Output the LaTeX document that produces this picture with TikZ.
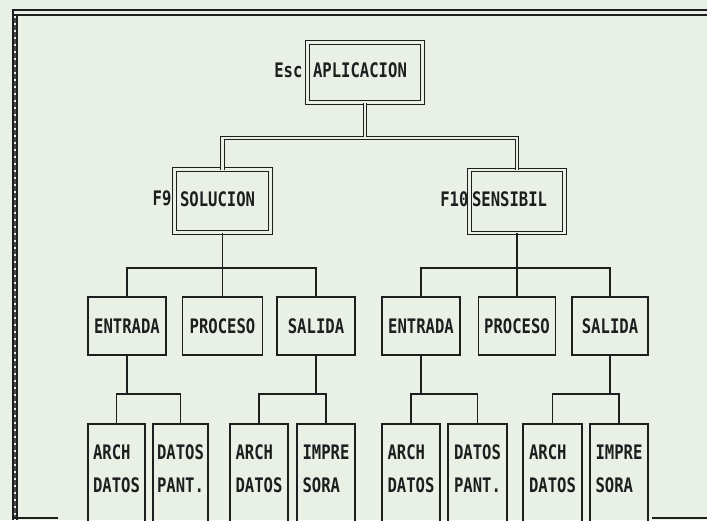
\documentclass[tikz,border=0pt]{standalone}
\usepackage{fontspec}
\newfontfamily\dotfont[FakeStretch=0.78]{DejaVu Sans Mono Bold}
\definecolor{paper}{HTML}{E9F1E7}
\definecolor{ink}{HTML}{1E1E1E}
\begin{document}
\begin{tikzpicture}[x=1pt,y=-1pt,
  conn/.style={draw=ink, line width=1.3pt},
  dbl/.style={draw=ink, line width=1.1pt, double=paper, double distance=2.6pt},
  txt/.style={font=\dotfont\fontsize{20}{33}\selectfont, text=ink},
  lvlone/.style={dbl, txt, outer sep=0pt, inner ysep=0pt, align=left, text depth=4pt},
  lvltwo/.style={conn, txt, outer sep=0pt, inner ysep=0pt, minimum height=58pt, align=center},
  lvlthree/.style={txt, outer sep=0pt, inner xsep=0pt, inner ysep=0pt, minimum height=89pt, text width=47pt, align=left},
  keylbl/.style={txt, inner sep=0pt, outer sep=0pt}]

% sheet and frame
\fill[paper] (0,0) rectangle (707,520);
\useasboundingbox (0,0) rectangle (707,520);
\clip (0,0) rectangle (707,520);
\draw[ink, line width=1.2pt] (12,10) -- (707,10);
\draw[ink, line width=1.2pt] (14,15) -- (707,15);
\draw[ink, line width=1.2pt] (13,10) -- (13,520);
\draw[ink, line width=1.2pt] (17,15) -- (17,520);
\draw[ink!80, line width=2.5pt, dash pattern=on 5pt off 2pt] (15,18) -- (15,518);
\draw[ink, line width=2pt] (12,518) -- (58,518);
\draw[ink, line width=2pt] (652,518) -- (707,518);

% level 0 and level 1 (double frames)
\node[lvlone, minimum width=115pt, minimum height=60pt, inner xsep=5.5pt, text width=104pt] (root) at (365,72.5) {APLICACION};
\node[lvlone, minimum width=96pt, minimum height=63pt, inner xsep=5.5pt, text width=85pt] (sol) at (222.5,201) {SOLUCION};
\node[lvlone, minimum width=95pt, minimum height=63pt, inner xsep=2.5pt, text width=90pt] (sen) at (517,201.5) {SENSIBIL};

\node[keylbl, anchor=east] (esc) at ([xshift=-5pt,yshift=2.5pt]root.west) {Esc};
\node[keylbl, anchor=east] (fnine) at ([xshift=-3pt,yshift=2.5pt]sol.west) {F9};
\node[keylbl, anchor=east] (ften) at ([xshift=-1pt,yshift=2.5pt]sen.west) {F10};

% level 2
\node[lvltwo, minimum width=78pt] (ent1) at (127,326) {ENTRADA};
\node[lvltwo, minimum width=80pt] (pro1) at (222.5,326) {PROCESO};
\node[lvltwo, minimum width=78pt] (sal1) at (316,326) {SALIDA};
\node[lvltwo, minimum width=78pt] (ent2) at (421,326) {ENTRADA};
\node[lvltwo, minimum width=77pt] (pro2) at (517,326) {PROCESO};
\node[lvltwo, minimum width=76pt] (sal2) at (610,326) {SALIDA};

% level 3 (boxes run off the bottom of the sheet)
\node[lvlthree, minimum width=57pt] (a1) at (116.5,468.5) {ARCH\\DATOS};
\node[lvlthree, minimum width=55pt] (d1) at (180.5,468.5) {DATOS\\PANT.};
\node[lvlthree, minimum width=58pt] (a2) at (259,468.5) {ARCH\\DATOS};
\node[lvlthree, minimum width=58pt] (i2) at (326,468.5) {IMPRE\\SORA};
\node[lvlthree, minimum width=58pt] (a3) at (411,468.5) {ARCH\\DATOS};
\node[lvlthree, minimum width=59pt] (d3) at (477.5,468.5) {DATOS\\PANT.};
\node[lvlthree, minimum width=59pt] (a4) at (552.5,468.5) {ARCH\\DATOS};
\node[lvlthree, minimum width=58pt] (i4) at (619,468.5) {IMPRE\\SORA};

\coordinate (floor) at (0,522);
\foreach \b in {a1,d1,a2,i2,a3,d3,a4,i4}
  \draw[conn] (\b.north west |- floor) -- (\b.north west) -- (\b.north east) -- (\b.north east |- floor);

% connectors
\coordinate (busone) at (0,138);
\coordinate (bustwo) at (0,268);
\coordinate (busthree) at (0,394);

\draw[dbl] (sol.north) -- (sol.north |- busone) -- (sen.north |- busone) -- (sen.north);
\draw[dbl] (root.south) -- ([yshift=1.5pt]root.south |- busone);

\draw[conn] (sol.south) -- (sol.south |- bustwo);
\draw[conn] (ent1.north) |- (sal1.north |- bustwo) -- (sal1.north);
\draw[conn] (pro1.north) -- (pro1.north |- bustwo);
\draw[conn] (sen.south) -- (sen.south |- bustwo);
\draw[conn] (ent2.north) |- (sal2.north |- bustwo) -- (sal2.north);
\draw[conn] (pro2.north) -- (pro2.north |- bustwo);

\draw[conn] (ent1.south) -- (ent1.south |- busthree);
\draw[conn] (a1.north) |- (d1.north |- busthree) -- (d1.north);
\draw[conn] (sal1.south) -- (sal1.south |- busthree);
\draw[conn] (a2.north) |- (i2.north |- busthree) -- (i2.north);
\draw[conn] (ent2.south) -- (ent2.south |- busthree);
\draw[conn] (a3.north) |- (d3.north |- busthree) -- (d3.north);
\draw[conn] (sal2.south) -- (sal2.south |- busthree);
\draw[conn] (a4.north) |- (i4.north |- busthree) -- (i4.north);
\end{tikzpicture}
\end{document}
